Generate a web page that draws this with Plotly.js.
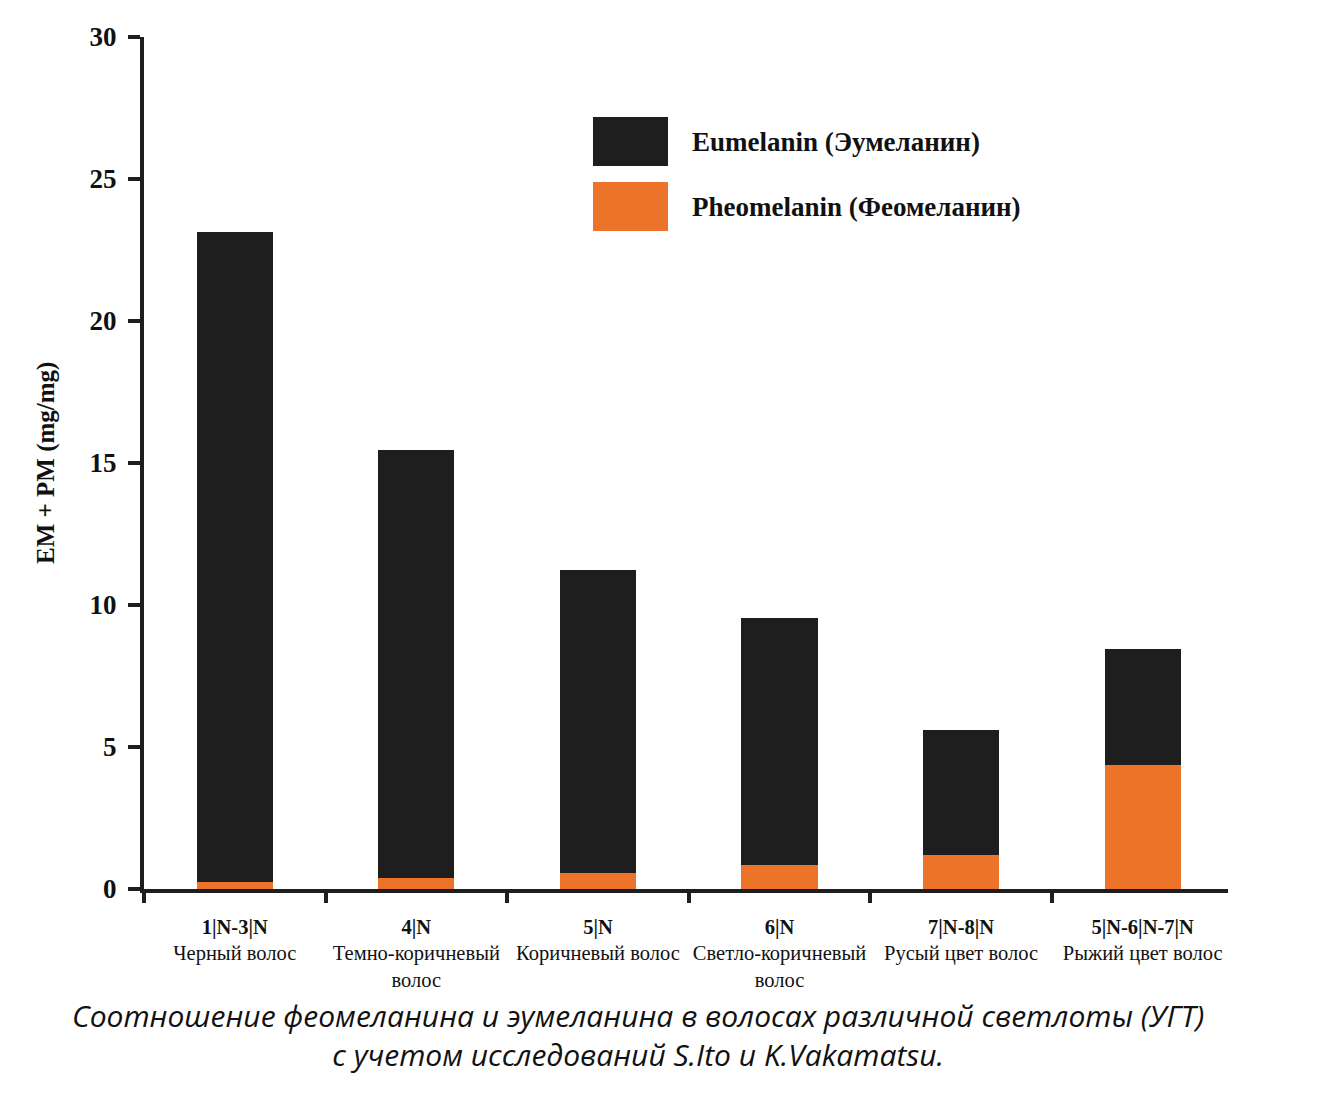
<!DOCTYPE html>
<html>
<head>
<meta charset="utf-8">
<script src="https://cdn.plot.ly/plotly-3.0.1.min.js"></script>
<style>
  html, body { margin: 0; padding: 0; background: #fff; }
  #chart { width: 1326px; height: 1099px; }
</style>
</head>
<body>
<div id="chart"></div>
<script>
// Категории (УГТ) и значения по рисунку
const codes   = ['1|N-3|N', '4|N', '5|N', '6|N', '7|N-8|N', '5|N-6|N-7|N'];
const names   = ['Черный волос', 'Темно-коричневый<br>волос', 'Коричневый волос',
                 'Светло-коричневый<br>волос', 'Русый цвет волос', 'Рыжий цвет волос'];
const pheo    = [0.25, 0.4, 0.55, 0.85, 1.2, 4.35];
const eu      = [22.9, 15.05, 10.7, 8.7, 4.4, 4.1];
const yTicks  = [0, 5, 10, 15, 20, 25, 30];

const BLACK  = '#1e1e1e';
const ORANGE = '#ec732a';
const SERIF  = '"Liberation Serif", "Times New Roman", serif';

const tickText = codes.map((c, i) => `<b>${c}</b><br>${names[i]}`);

const traces = [
  { x: codes, y: pheo, type: 'bar', name: 'Pheomelanin (Феомеланин)',
    marker: { color: ORANGE, line: { width: 0 } }, hoverinfo: 'y' },
  { x: codes, y: eu, type: 'bar', name: 'Eumelanin (Эумеланин)',
    marker: { color: BLACK, line: { width: 0 } }, hoverinfo: 'y' },
];

// легенда нарисована вручную: большие квадраты как на оригинале
const legendItems = [
  { color: BLACK,  text: '<b>Eumelanin (Эумеланин)</b>',   y0: 0.8486, y1: 0.906 },
  { color: ORANGE, text: '<b>Pheomelanin (Феомеланин)</b>', y0: 0.7723, y1: 0.8298 },
];

const shapes = legendItems.map(it => ({
  type: 'rect', xref: 'paper', yref: 'paper',
  x0: 0.4142, x1: 0.4834, y0: it.y0, y1: it.y1,
  fillcolor: it.color, line: { width: 0 }
}));

const annotations = legendItems.map(it => ({
  xref: 'paper', yref: 'paper', x: 0.5037, y: (it.y0 + it.y1) / 2,
  xanchor: 'left', yanchor: 'middle', showarrow: false, text: it.text,
  font: { family: SERIF, size: 27, color: '#111' }
}));

annotations.push({
  xref: 'paper', yref: 'paper', x: 0.4557, y: -0.171,
  xanchor: 'center', yanchor: 'middle', showarrow: false,
  text: '<i>Соотношение феомеланина и эумеланина в волосах различной светлоты (УГТ)<br>с учетом исследований S.Ito и K.Vakamatsu.</i>',
  font: { family: '"Open Sans", sans-serif', size: 30, color: '#111' },
  align: 'center'
});

annotations.push({
  xref: 'paper', yref: 'paper', x: -0.0904, y: 0.5,
  xanchor: 'center', yanchor: 'middle', showarrow: false, textangle: -90,
  text: '<b>EM + PM (mg/mg)</b>',
  font: { family: SERIF, size: 25, color: '#111' }
});

const layout = {
  width: 1326, height: 1099,
  margin: { l: 144, r: 98, t: 37, b: 210 },
  paper_bgcolor: '#fff', plot_bgcolor: '#fff',
  barmode: 'stack', bargap: 0.58,
  showlegend: false,
  xaxis: {
    type: 'category', range: [-0.5, 5.47],
    tickvals: codes, ticktext: tickText, tickangle: 0,
    tickson: 'boundaries', ticks: 'outside', ticklen: 10, tickwidth: 4, tickcolor: BLACK,
    showline: true, linewidth: 4, linecolor: BLACK,
    showgrid: false, zeroline: false,
    tickfont: { family: SERIF, size: 20.5, color: '#111' },
    ticklabelstandoff: 16,
    automargin: false, fixedrange: true
  },
  yaxis: {
    range: [0, 30], tickvals: yTicks,
    ticks: 'outside', ticklen: 12, tickwidth: 4, tickcolor: BLACK,
    showline: true, linewidth: 4, linecolor: BLACK,
    showgrid: false, zeroline: false,
    tickfont: { family: SERIF, size: 27, color: '#111', weight: 'bold' },
    ticklabelstandoff: 6,
    automargin: false, fixedrange: true
  },
  shapes, annotations
};

Plotly.newPlot('chart', traces, layout, { displayModeBar: false, staticPlot: true });
</script>
</body>
</html>
